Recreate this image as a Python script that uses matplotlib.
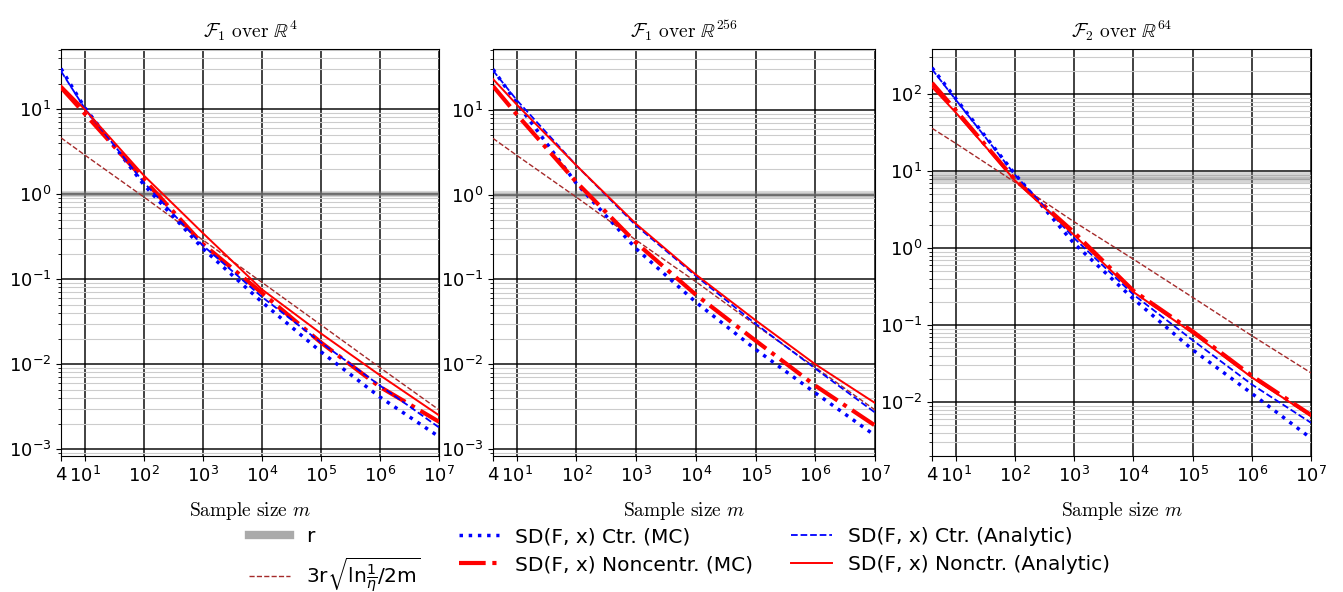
"""Sample-size curves for SD(F, x), three panels, log-log."""

import numpy as np
import matplotlib
matplotlib.use('Agg')
import matplotlib.pyplot as plt
from matplotlib.lines import Line2D

# sample sizes where values were read
m = [4, 10, 1e2, 1e3, 1e4, 1e5, 1e6, 1e7]

titles = [r'$\mathcal{F}_1\ \mathrm{over}\ \mathbb{R}^{4}$',
          r'$\mathcal{F}_1\ \mathrm{over}\ \mathbb{R}^{256}$',
          r'$\mathcal{F}_2\ \mathrm{over}\ \mathbb{R}^{64}$']

# panel 1: F1 over R^4
p1_ctr_mc = [30, 10.5, 1.3, 0.23, 0.054, 0.014, 0.0041, 0.0014]
p1_ctr_an = [28, 10.3, 1.38, 0.25, 0.062, 0.018, 0.0056, 0.0018]
p1_nonc_mc = [18, 8.9, 1.5, 0.26, 0.069, 0.018, 0.0054, 0.0021]
p1_nonc_an = [19, 10.0, 1.67, 0.35, 0.076, 0.023, 0.0074, 0.0025]
p1_bound = [4.6, 2.9, 0.93, 0.29, 0.092, 0.029, 0.0091, 0.0029]
p1_r = [0.94, 0.97, 0.99, 1.0, 1.01, 1.03, 1.06]

# panel 2: F1 over R^256
p2_ctr_mc = [30, 12, 1.35, 0.23, 0.054, 0.015, 0.0046, 0.00145]
p2_ctr_an = [29, 13, 2.2, 0.43, 0.11, 0.030, 0.0089, 0.0027]
p2_nonc_mc = [19, 8.8, 1.4, 0.27, 0.066, 0.019, 0.0056, 0.0019]
p2_nonc_an = [23, 11.5, 2.2, 0.45, 0.114, 0.033, 0.010, 0.0035]
p2_bound = [4.6, 2.9, 0.93, 0.29, 0.094, 0.029, 0.0092, 0.0029]
p2_r = [0.94, 0.97, 0.99, 1.0, 1.01, 1.03, 1.06]

# panel 3: F2 over R^64
p3_ctr_mc = [220, 88, 9.2, 1.15, 0.22, 0.048, 0.013, 0.0034]
p3_ctr_an = [210, 85, 9.0, 1.35, 0.25, 0.064, 0.017, 0.0054]
p3_nonc_mc = [140, 62, 7.8, 1.6, 0.28, 0.083, 0.022, 0.0068]
p3_nonc_an = [123, 58, 7.6, 1.48, 0.27, 0.079, 0.021, 0.0066]
p3_bound = [36, 23, 7.2, 2.2, 0.72, 0.23, 0.073, 0.024]
p3_r = [7.3, 7.7, 8.0, 8.2, 8.4, 8.8, 9.4]

panels = [
    (p1_ctr_mc, p1_ctr_an, p1_nonc_mc, p1_nonc_an, p1_bound, p1_r, (8.3e-4, 51)),
    (p2_ctr_mc, p2_ctr_an, p2_nonc_mc, p2_nonc_an, p2_bound, p2_r, (8.3e-4, 52)),
    (p3_ctr_mc, p3_ctr_an, p3_nonc_mc, p3_nonc_an, p3_bound, p3_r, (2.0e-3, 385)),
]

W, H = 1343, 592
fig = plt.figure(figsize=(W / 100, H / 100), dpi=100)
lefts = [61, 493, 932]
rights = [439, 875, 1311]
top, bottom = 49, 456

xticks = [4, 1e1, 1e2, 1e3, 1e4, 1e5, 1e6, 1e7]
xlabels = ['4'] + [r'$10^{%d}$' % k for k in range(1, 8)]

for i, (cmc, can, nmc, nan_, bnd, rr, ylim) in enumerate(panels):
    ax = fig.add_axes([lefts[i] / W, 1 - bottom / H,
                       (rights[i] - lefts[i]) / W, (bottom - top) / H])
    ax.set_xscale('log')
    ax.set_yscale('log')
    for rv in rr:
        ax.axhline(rv, color='gray', lw=1.6, alpha=0.3, zorder=1)
    ax.plot(m, bnd, '--', color='brown', lw=1.0, zorder=3)
    ax.plot(m, cmc, ':', color='blue', lw=2.5, zorder=4)
    ax.plot(m, nmc, '-.', color='red', lw=3, zorder=4)
    ax.plot(m, can, '--', color='blue', lw=1.3, zorder=5)
    ax.plot(m, nan_, '-', color='red', lw=1.4, zorder=5)

    ax.set_xlim(4, 1e7)
    ax.set_ylim(*ylim)
    ax.set_xticks(xticks)
    ax.set_xticklabels(xlabels)
    ax.xaxis.set_minor_locator(matplotlib.ticker.NullLocator())
    ax.tick_params(labelsize=13)
    ax.grid(True, which='major', color='black', alpha=0.8, lw=1.3)
    ax.grid(True, which='minor', axis='y', color='#cccccc', lw=0.8)
    ax.set_axisbelow(True)
    ax.set_title(titles[i], fontsize=14, math_fontfamily='cm', pad=8)
    ax.set_xlabel(r'$\mathrm{Sample\ size}\ m$', fontsize=14,
                  math_fontfamily='cm', labelpad=10)

handles = [
    Line2D([], [], color='#aaaaaa', lw=6),
    Line2D([], [], ls='--', color='brown', lw=1.0),
    Line2D([], [], ls=':', color='blue', lw=2.5),
    Line2D([], [], ls='-.', color='red', lw=3),
    Line2D([], [], ls='--', color='blue', lw=1.3),
    Line2D([], [], ls='-', color='red', lw=1.4),
]
labels = [
    'r',
    r'3r$\sqrt{\mathrm{ln}\frac{1}{\eta}/2\mathrm{m}}$',
    'SD(F, x) Ctr. (MC)',
    'SD(F, x) Noncentr. (MC)',
    'SD(F, x) Ctr. (Analytic)',
    'SD(F, x) Nonctr. (Analytic)',
]
fig.legend(handles, labels, loc='upper center', bbox_to_anchor=(0.506, 0.133),
           ncol=3, frameon=False, fontsize=14.5, columnspacing=1.9,
           handlelength=2.0, labelspacing=0.45, borderpad=0.2)

fig.savefig('out.png', dpi=100)
